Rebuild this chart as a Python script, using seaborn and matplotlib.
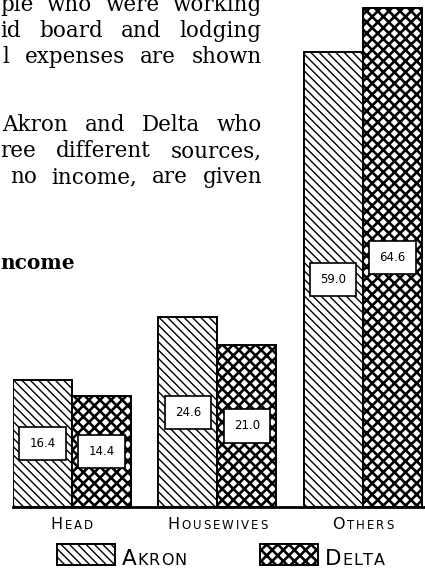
import pandas as pd
import seaborn as sns
import matplotlib.pyplot as plt
from matplotlib.patches import Patch
from matplotlib.transforms import IdentityTransform

# chart data (share of income, per cent)
groups = ['Head', 'Housewives', 'Others']
towns = ['Akron', 'Delta']
akron = [16.4, 24.6, 59.0]
delta = [14.4, 21.0, 64.6]

# page text that is cut off at the left of the scan
page_lines = [
    'ple who were working',
    'id board and lodging',
    'l expenses are shown',
    'Akron and Delta who',
    'ree different sources,',
    'no income, are given',
]
heading = 'ncome'

W, H = 425, 569
plt.rcParams['hatch.linewidth'] = 1.3
fig = plt.figure(figsize=(W / 100, H / 100), dpi=100)
ax = fig.add_axes([13 / W, 62 / H, 411 / W, 507 / H])

df = pd.DataFrame({
    'group': groups * 2,
    'town': ['Akron'] * len(groups) + ['Delta'] * len(groups),
    'share': akron + delta,
})
sns.barplot(data=df, x='group', y='share', hue='town', order=groups, hue_order=towns,
            palette={'Akron': 'white', 'Delta': 'white'}, saturation=1,
            width=0.81, gap=0, edgecolor='black', linewidth=1.4,
            legend=False, ax=ax)

hatches = {'Akron': '\\\\\\\\', 'Delta': 'xxx'}
hatch_lw = {'Akron': 1.0, 'Delta': 1.9}
for town, cont in zip(towns, ax.containers):
    for bar in cont:
        bar.set_hatch(hatches[town])
        if hasattr(bar, 'set_hatch_linewidth'):
            bar.set_hatch_linewidth(hatch_lw[town])

# value boxes at mid height of each bar
for cont in ax.containers:
    for bar in cont:
        h = bar.get_height()
        ax.text(bar.get_x() + bar.get_width() / 2, h / 2, f'{h:.1f}',
                ha='center', va='center', fontsize=8.5, family='DejaVu Sans',
                bbox=dict(boxstyle='square,pad=0.85', fc='white', ec='black', lw=1.2),
                zorder=5)

ax.set_xlim(-0.405, 2.42)
ax.set_ylim(0, 65.7)
ax.set_xticks([])
ax.set_yticks([])
ax.set_xlabel('')
ax.set_ylabel('')
for s in ['left', 'right', 'top']:
    ax.spines[s].set_visible(False)
ax.spines['bottom'].set_linewidth(2)
ax.patch.set_alpha(0)

renderer = fig.canvas.get_renderer()
px = IdentityTransform()


def text_width(s, **kw):
    t = fig.text(0, 0, s, transform=px, **kw)
    w = t.get_window_extent(renderer).width
    t.remove()
    return w


def justify(line, left, right, y_top, **kw):
    words = line.split()
    widths = [text_width(w, **kw) for w in words]
    gap = (right - left - sum(widths)) / max(len(words) - 1, 1)
    x = left
    for w, wd in zip(words, widths):
        fig.text(x, H - y_top, w, transform=px, va='baseline', **kw)
        x += wd + gap


def small_caps(word, x, y, big, small, track=0.0, ha='left', **kw):
    pieces = [(word[0].upper(), big)] + [(c.upper(), small) for c in word[1:]]
    widths = [text_width(c, fontsize=fs, **kw) for c, fs in pieces]
    total = sum(widths) + track * (len(pieces) - 1)
    if ha == 'center':
        x -= total / 2
    for (c, fs), wd in zip(pieces, widths):
        fig.text(x, y, c, fontsize=fs, transform=px, va='baseline', **kw)
        x += wd + track


# book text
serif = dict(family='DejaVu Serif', fontsize=15.5)
baselines = [11, 37, 63, 131, 157, 183]
lefts = [0, 0, 2, 2, 0, 10]
for line, yb, xl in zip(page_lines, baselines, lefts):
    justify(line, xl, 262, yb, **serif)
fig.text(0, H - 269, heading, transform=px, va='baseline',
         family='DejaVu Serif', fontsize=14.5, fontweight='bold')

# category labels in small caps
for i, g in enumerate(groups):
    xc = ax.transData.transform((i, 0))[0]
    small_caps(g, xc, 40, 11.5, 8.5, track=2.0, ha='center', family='DejaVu Sans')

# legend swatches
fs = 10
fpx = fs * 100 / 72
handles = [Patch(facecolor='white', edgecolor='black', hatch=hatches[t], linewidth=1.4) for t in towns]
leg = fig.legend(handles, ['', ''], loc='lower left', bbox_to_anchor=(57 / W, 4 / H),
                 ncols=2, frameon=False, fontsize=fs, borderpad=0, borderaxespad=0,
                 handlelength=58 / fpx, handleheight=27 / fpx, handletextpad=0,
                 columnspacing=145 / fpx)
for hnd, t in zip(leg.legend_handles, towns):
    if hasattr(hnd, 'set_hatch_linewidth'):
        hnd.set_hatch_linewidth(hatch_lw[t])

fig.canvas.draw()
for hnd, t in zip(leg.legend_handles, towns):
    ext = hnd.get_window_extent(renderer)
    small_caps(t, ext.x1 + 7, ext.y0, 15.5, 11.5, track=0.8, family='DejaVu Sans',
               fontweight='medium')

fig.savefig('out.png', dpi=100, facecolor='white')
